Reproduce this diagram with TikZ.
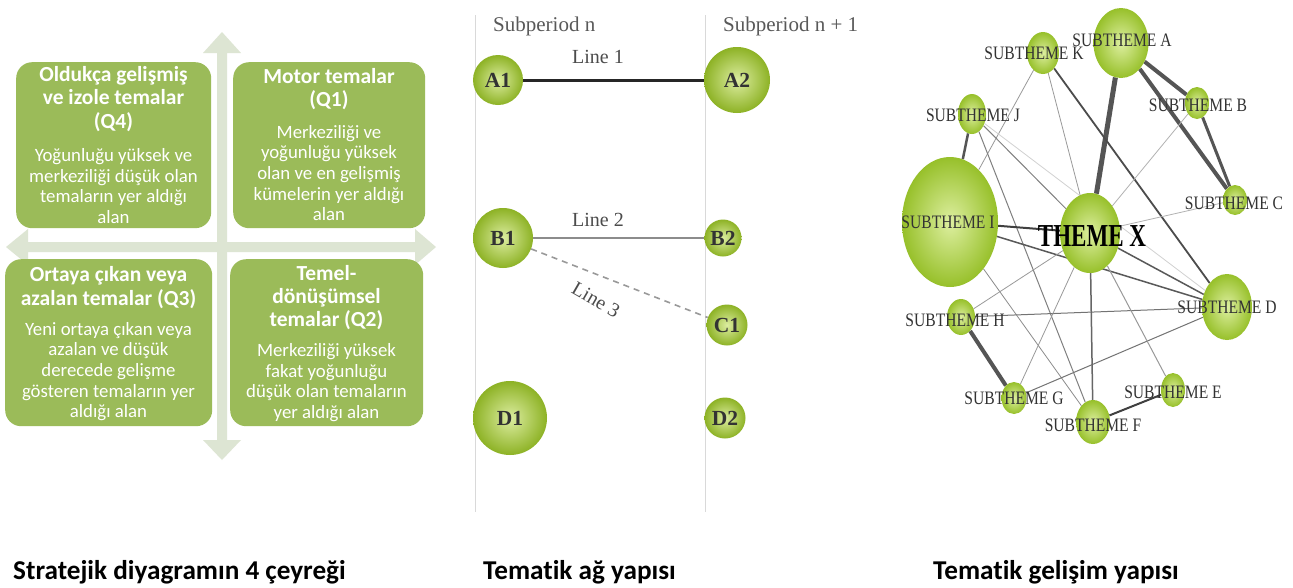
\documentclass[tikz,border=0pt]{standalone}
\usepackage{fontspec}
\setmainfont{Liberation Serif}
\newfontfamily\calfont[Ligatures=NoCommon]{Carlito}
\newfontfamily\netfont[FakeStretch=0.82]{Liberation Serif}
\newfontfamily\themefont[FakeStretch=0.72]{Liberation Serif}
\usetikzlibrary{shapes.geometric}
\pgfdeclarelayer{edges}
\pgfsetlayers{edges,main}

\definecolor{quadgreen}{HTML}{9BBB59}
\definecolor{axisgreen}{HTML}{DDE5D3}
\definecolor{ballin}{HTML}{DCEDA0}
\definecolor{ballout}{HTML}{8DB225}
\definecolor{netin}{HTML}{DDEFA0}
\definecolor{netout}{HTML}{97C02A}
\definecolor{edgedark}{HTML}{555555}

\tikzset{
  quad/.style={fill=quadgreen, draw=none, rounded corners=16pt, anchor=north west, inner sep=0pt},
  quadtitle/.style={text=white, align=center, inner sep=0pt, font=\calfont\bfseries\fontsize{21.5}{23.3}\selectfont},
  quadbody/.style={text=white, align=center, inner sep=0pt, font=\calfont\fontsize{18.8}{20.6}\selectfont},
  ballnode/.style={circle, shade, inner color=ballin, outer color=ballout, inner sep=0pt,
    text=black!80, font=\bfseries\fontsize{21.5}{21.5}\selectfont},
  periodlabel/.style={text=black!65, inner sep=0pt, font=\fontsize{21}{21}\selectfont},
  linelabel/.style={text=black!70, inner sep=0pt, font=\fontsize{20}{20}\selectfont},
  netnode/.style={ellipse, shade, inner color=netin, outer color=netout, inner sep=0pt},
  netlabel/.style={text=black!80, inner sep=0pt, font=\netfont\fontsize{19}{19}\selectfont},
  caption/.style={anchor=base west, inner sep=0pt, text=black, font=\calfont\bfseries\fontsize{27.2}{27.2}\selectfont},
}

\begin{document}
\begin{tikzpicture}[x=1pt,y=-1pt]
\useasboundingbox (0,0) rectangle (1293,587);
\begin{pgfonlayer}{edges}
  \fill[white] (0,0) rectangle (1293,587);
\end{pgfonlayer}

% ---------- strategic diagram: axes ----------
\fill[axisgreen] (217,53) -- (203,53) -- (222,32) -- (241,53) -- (227,53)
  -- (227,440) -- (241,440) -- (222,460) -- (203,440) -- (217,440) -- cycle;
\fill[axisgreen] (28,242) -- (28,229) -- (6,247) -- (28,265) -- (28,252)
  -- (415,252) -- (415,265) -- (436,247) -- (415,229) -- (415,242) -- cycle;

% ---------- strategic diagram: quadrants ----------
\node[quad, minimum width=195, minimum height=166] (q4) at (16,62) {};
\node[quad, minimum width=192, minimum height=166] (q1) at (233,62) {};
\node[quad, minimum width=207, minimum height=167] (q3) at (5,259) {};
\node[quad, minimum width=193, minimum height=167] (q2) at (230,259) {};

\node[quadtitle] (q4t) at (113.5,99) {Oldukça gelişmiş\\ve izole temalar\\(Q4)};
\node[quadbody]  (q4b) at (113.5,186) {Yoğunluğu yüksek ve\\merkeziliği düşük olan\\temaların yer aldığı\\alan};
\node[quadtitle] (q1t) at (329,89) {Motor temalar\\(Q1)};
\node[quadbody]  (q1b) at (329,173) {Merkeziliği ve\\yoğunluğu yüksek\\olan ve en gelişmiş\\kümelerin yer aldığı\\alan};
\node[quadtitle] (q3t) at (108.5,287.5) {Ortaya çıkan veya\\azalan temalar (Q3)};
\node[quadbody]  (q3b) at (108.5,371.5) {Yeni ortaya çıkan veya\\azalan ve düşük\\derecede gelişme\\gösteren temaların yer\\aldığı alan};
\node[quadtitle] (q2t) at (326.5,297.5) {Temel-\\dönüşümsel\\temalar (Q2)};
\node[quadbody]  (q2b) at (326.5,382.5) {Merkeziliği yüksek\\fakat yoğunluğu\\düşük olan temaların\\yer aldığı alan};

% ---------- thematic network: subperiods ----------
\draw[black!15, line width=1pt] (475,15) -- (475,512);
\draw[black!15, line width=1pt] (705,15) -- (705,512);
\node[periodlabel, anchor=base west] (pn) at (493,31) {Subperiod n};
\node[periodlabel, anchor=base west] (pn1) at (723,31) {Subperiod n + 1};

\node[ballnode, minimum size=50] (A1) at (498,80) {A1};
\node[ballnode, minimum size=66] (A2) at (737,80) {A2};
\node[ballnode, minimum size=60] (B1) at (503,238) {B1};
\node[ballnode, minimum size=37] (B2) at (723,238) {B2};
\node[ballnode, minimum size=41] (C1) at (727,325) {C1};
\node[ballnode, minimum size=74] (D1) at (510,418) {D1};
\node[ballnode, minimum size=41] (D2) at (725,418) {D2};

\draw[line width=3pt, black!85] (A1) -- (A2);
\draw[line width=1.3pt, black!45] (B1) -- (B2);
\draw[line width=1.6pt, black!40, dash pattern=on 6pt off 5pt] (B1) -- (C1);

\node[linelabel] (l1) at (598,57) {Line 1};
\node[linelabel] (l2) at (598,220) {Line 2};
\node[linelabel, rotate=-30] (l3) at (596,300) {Line 3};

% ---------- thematic evolution network ----------
\node[netnode, minimum width=60, minimum height=80]  (X) at (1090,233) {};
\node[netnode, minimum width=96, minimum height=130] (I) at (950,222) {};
\node[netnode, minimum width=55, minimum height=70]  (A) at (1121,43) {};
\node[netnode, minimum width=32, minimum height=42]  (K) at (1043,53) {};
\node[netnode, minimum width=24, minimum height=32]  (B) at (1197,103) {};
\node[netnode, minimum width=28, minimum height=40]  (J) at (972,114) {};
\node[netnode, minimum width=24, minimum height=30]  (C) at (1235,200) {};
\node[netnode, minimum width=50, minimum height=66]  (D) at (1227,307) {};
\node[netnode, minimum width=28, minimum height=36]  (H) at (961,317) {};
\node[netnode, minimum width=25, minimum height=32]  (G) at (1014,398) {};
\node[netnode, minimum width=34, minimum height=44]  (F) at (1093,422) {};
\node[netnode, minimum width=24, minimum height=34]  (E) at (1173,390) {};

\begin{pgfonlayer}{edges}
  \draw[edgedark, line width=5pt] (A) -- (X);
  \draw[edgedark, line width=4pt] (A) -- (B);
  \draw[edgedark, line width=4pt] (A) -- (C);
  \draw[edgedark, line width=3pt] (B) -- (C);
  \draw[black!70, line width=1.8pt] (K) -- (D);
  \draw[black!40, line width=0.8pt] (I) -- (K);
  \draw[black!40, line width=0.8pt] (K) -- (X);
  \draw[edgedark, line width=2.5pt] (J) -- (I);
  \draw[black!50, line width=1pt] (J) -- (X);
  \draw[black!18, line width=0.8pt] (J) -- (D);
  \draw[black!50, line width=1pt] (J) -- (F);
  \draw[black!75, line width=2pt] (I) -- (X);
  \draw[black!65, line width=1.5pt] (I) -- (D);
  \draw[black!45, line width=0.8pt] (I) -- (F);
  \draw[black!55, line width=1pt] (H) -- (D);
  \draw[edgedark, line width=4pt] (H) -- (G);
  \draw[black!40, line width=0.8pt] (H) -- (X);
  \draw[black!55, line width=1pt] (G) -- (D);
  \draw[black!40, line width=0.8pt] (G) -- (X);
  \draw[black!60, line width=1.5pt] (X) -- (F);
  \draw[black!40, line width=1pt] (X) -- (E);
  \draw[black!65, line width=1.5pt] (X) -- (D);
  \draw[black!30, line width=0.8pt] (X) -- (C);
  \draw[black!30, line width=0.8pt] (X) -- (B);
  \draw[black!75, line width=2pt] (F) -- (E);
\end{pgfonlayer}

\node[netlabel] (tA) at (1122,40) {SUBTHEME A};
\node[netlabel] (tK) at (1034,53) {SUBTHEME K};
\node[netlabel] (tJ) at (973,115) {SUBTHEME J};
\node[netlabel] (tB) at (1198,105) {SUBTHEME B};
\node[netlabel] (tC) at (1234,203) {SUBTHEME C};
\node[netlabel] (tI) at (948,222) {SUBTHEME I};
\node[netlabel] (tD) at (1227,307) {SUBTHEME D};
\node[netlabel] (tH) at (955,320) {SUBTHEME H};
\node[netlabel] (tG) at (1014,398) {SUBTHEME G};
\node[netlabel] (tF) at (1093,425) {SUBTHEME F};
\node[netlabel] (tE) at (1173,392) {SUBTHEME E};
\node[inner sep=0pt, text=black, font=\themefont\bfseries\fontsize{32}{32}\selectfont] (tX) at (1092,236) {THEME X};

% ---------- captions ----------
\node[caption] (cap1) at (13,579) {Stratejik diyagramın 4 çeyreği};
\node[caption] (cap2) at (483,579) {Tematik ağ yapısı};
\node[caption] (cap3) at (933,579) {Tematik gelişim yapısı};
\end{tikzpicture}
\end{document}
